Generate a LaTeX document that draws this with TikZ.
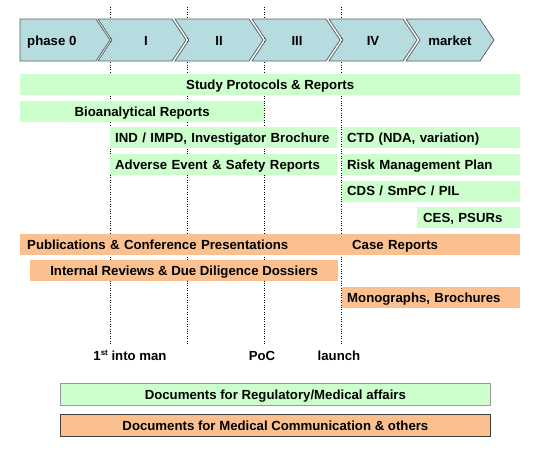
\documentclass[tikz,border=0pt]{standalone}
\usepackage{fontspec}
\setmainfont{Liberation Sans}
\definecolor{docgreen}{RGB}{204,255,204}
\definecolor{docorange}{RGB}{250,192,144}
\definecolor{phasefill}{RGB}{182,220,224}
\definecolor{phaseline}{RGB}{90,100,100}
\begin{document}
\begin{tikzpicture}[x=1pt,y=-1pt,
  lbl/.style={font=\fontsize{13.2}{15}\selectfont\bfseries, inner sep=0pt},
  box/.style={anchor=north west, inner ysep=0pt, inner xsep=5pt, minimum height=21pt,
    text height=11pt, text depth=1.6pt, font=\fontsize{13.2}{15}\selectfont\bfseries},
  gbox/.style={box, fill=docgreen},
  obox/.style={box, fill=docorange},
  phasebox/.style={fill=phasefill, draw=phaseline, line width=0.8pt, line join=miter},
  milestone/.style={draw=black, line width=0.7pt, dash pattern=on 0.8pt off 1.6pt}
]
\useasboundingbox (0,0) rectangle (540,450);
% milestone lines
\foreach \i/\x in {1/110,2/187,3/264,4/341}{
  \coordinate (m\i t) at (\x,7);
  \coordinate (m\i b) at (\x,344);
  \draw[milestone] (m\i t) -- (m\i b);
}
% phases
\draw[phasebox] (20,19) -- (96,19) -- (110,40) -- (96,61) -- (20,61) -- cycle;
\foreach \L in {98,175,252,329,406}{
  \draw[phasebox] (\L,19) -- (\L+74,19) -- (\L+88,40) -- (\L+74,61) -- (\L,61) -- (\L+14,40) -- cycle;
}
\node[lbl, anchor=base west] (p0) at (27,45) {phase 0};
\node[lbl, anchor=base] (p1) at (146,45) {I};
\node[lbl, anchor=base] (p2) at (219,45) {II};
\node[lbl, anchor=base] (p3) at (297,45) {III};
\node[lbl, anchor=base] (p4) at (373,45) {IV};
\node[lbl, anchor=base] (p5) at (450,45) {market};
% regulatory documents
\node[gbox, minimum width=500pt] (sp) at (20,74) {Study Protocols \& Reports};
\node[gbox, minimum width=244pt] (bio) at (20,100.6) {Bioanalytical Reports};
\node[gbox, text width=217pt, align=left] (ind) at (110,127.2) {IND / IMPD, Investigator Brochure};
\node[gbox, text width=217pt, align=left] (ae) at (110,153.8) {Adverse Event \& Safety Reports};
\node[gbox, text width=168pt, align=left] (ctd) at (342,127.2) {CTD (NDA, variation)};
\node[gbox, text width=168pt, align=left] (rmp) at (342,153.8) {Risk Management Plan};
\node[gbox, text width=168pt, align=left] (cds) at (342,180.4) {CDS / SmPC / PIL};
\node[gbox, inner xsep=6pt, text width=91pt, align=left] (ces) at (417,207) {CES, PSURs};
% communication documents
\node[obox, inner xsep=7pt, text width=307pt, align=left] (pub) at (20,233.6) {Publications \& Conference Presentations};
\node[obox, inner xsep=11pt, text width=157pt, align=left] (case) at (341,233.6) {Case Reports};
\node[obox, minimum width=308pt] (ird) at (30,260.2) {Internal Reviews \& Due Diligence Dossiers};
\node[obox, text width=168pt, align=left] (mono) at (342,286.8) {Monographs, Brochures};
% milestones
\node[lbl, anchor=base] (ms1) at (130,360) {1\raisebox{4.5pt}{\fontsize{8}{9}\selectfont st} into man};
\node[lbl, anchor=base] (ms2) at (262,360) {PoC};
\node[lbl, anchor=base] (ms3) at (339,360) {launch};
% legend
\node[gbox, draw=gray!80, line width=0.7pt, minimum width=430pt, minimum height=22pt] (lg) at (60,383) {Documents for Regulatory/Medical affairs};
\node[obox, draw=black!75, line width=0.8pt, minimum width=430pt, minimum height=22pt] (lo) at (60,414) {Documents for Medical Communication \& others};
\end{tikzpicture}
\end{document}
